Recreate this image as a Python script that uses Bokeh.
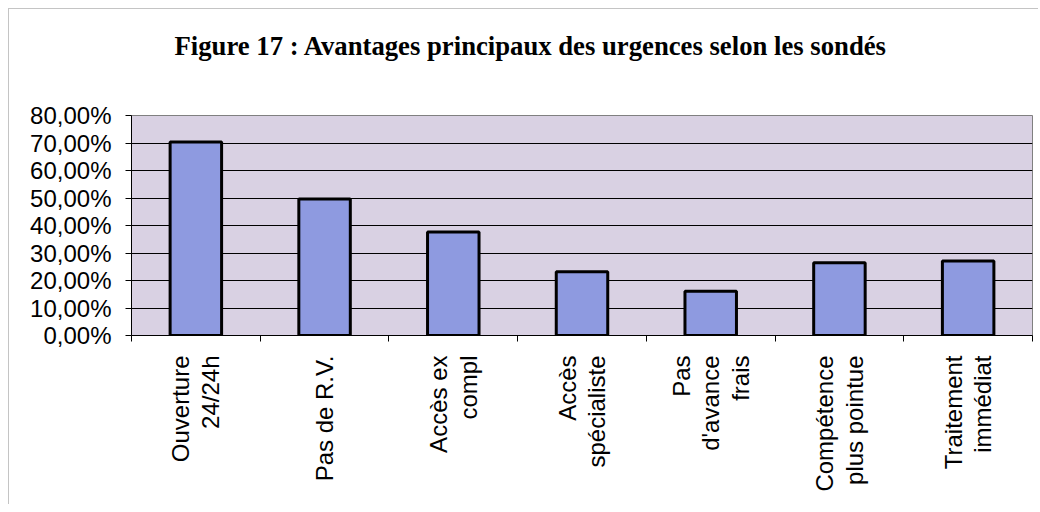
import numpy as np
from bokeh.plotting import figure
from bokeh.models import Range1d, LinearAxis, FixedTicker, ColumnDataSource, Title, Grid
from bokeh.embed import file_html
from bokeh.resources import INLINE

title_text = "Figure 17 : Avantages principaux des urgences selon les sondés"
categories = [
    "Ouverture\n24/24h",
    "Pas de R.V.",
    "Accès ex\ncompl",
    "Accès\nspécialiste",
    "Pas\nd'avance\nfrais",
    "Compétence\nplus pointue",
    "Traitement\nimmédiat",
]
values = [70.4, 49.6, 37.6, 23.2, 16.1, 26.5, 27.1]
y_ticks = [0, 10, 20, 30, 40, 50, 60, 70, 80]
y_tick_labels = ["0,00%", "10,00%", "20,00%", "30,00%", "40,00%",
                 "50,00%", "60,00%", "70,00%", "80,00%"]

n = len(categories)
centers = list(np.arange(n) + 0.5)
bounds = list(range(n + 1))

src = ColumnDataSource(dict(x=centers, top=values))

p = figure(width=1030, height=496, output_backend="svg", toolbar_location=None,
           x_range=Range1d(0, n), y_range=Range1d(0, 80),
           x_axis_location=None, y_axis_location=None,
           min_border_left=122, min_border_right=7, min_border_top=0,
           min_border_bottom=170)

p.background_fill_color = "#d9d1e3"
p.border_fill_color = "white"
p.outline_line_color = "#808080"
p.outline_line_width = 1

p.xgrid.visible = False
p.ygrid.visible = False
g = Grid(dimension=1, ticker=FixedTicker(ticks=y_ticks), grid_line_color="black",
         grid_line_width=1)
p.add_layout(g)

p.vbar(x="x", top="top", width=0.4, source=src, fill_color="#8e9ae0",
       line_color="black", line_width=3)

# spacer between title and frame, then the title itself
spacer = Title(text=" ", text_font_size="10px", standoff=22)
p.add_layout(spacer, "above")
t = Title(text=title_text, align="left", text_font="Liberation Serif",
          text_font_style="bold", text_font_size="26.7px", text_color="black",
          standoff=39, offset=43)
p.add_layout(t, "above")

# y axis
ya = LinearAxis(ticker=FixedTicker(ticks=y_ticks),
                major_label_overrides={v: s for v, s in zip(y_ticks, y_tick_labels)})
ya.axis_line_color = "black"
ya.major_tick_line_color = "black"
ya.major_tick_out = 6
ya.major_tick_in = 0
ya.minor_tick_line_color = None
ya.major_label_text_font = "Liberation Sans"
ya.major_label_text_font_size = "24px"
ya.major_label_text_color = "black"
ya.major_label_standoff = 14
p.add_layout(ya, "left")

# x axis: tick marks at category boundaries
xa = LinearAxis(ticker=FixedTicker(ticks=bounds),
                major_label_overrides={b: "" for b in bounds})
xa.axis_line_color = "black"
xa.major_tick_line_color = "black"
xa.major_tick_out = 6
xa.major_tick_in = 0
xa.minor_tick_line_color = None
xa.major_label_text_font_size = "1px"
xa.major_label_standoff = 0
p.add_layout(xa, "below")

# x axis: category labels at bar centres
xl = LinearAxis(ticker=FixedTicker(ticks=centers),
                major_label_overrides={c: s for c, s in zip(centers, categories)})
xl.axis_line_color = None
xl.major_tick_line_color = None
xl.minor_tick_line_color = None
xl.major_label_orientation = np.pi / 2
xl.major_label_text_font = "Liberation Sans"
xl.major_label_text_font_size = "24px"
xl.major_label_text_color = "black"
xl.major_label_text_line_height = 1.1
xl.major_label_standoff = 8
p.add_layout(xl, "below")

p.styles = {"margin-top": "8px", "margin-left": "8px",
            "border-top": "1px solid #c4c4c4", "border-left": "1px solid #c4c4c4"}

open("out.html", "w").write(file_html(p, INLINE))
